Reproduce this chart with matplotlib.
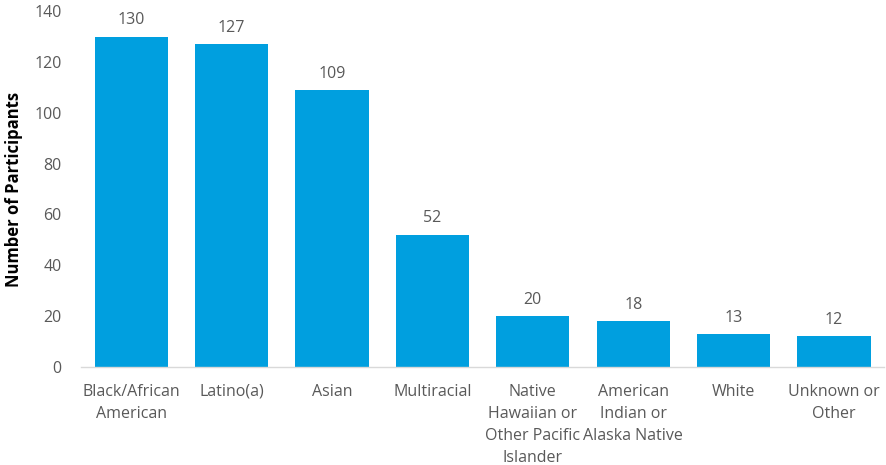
import matplotlib
matplotlib.use("Agg")
import matplotlib.pyplot as plt

categories = ["Black/African\nAmerican", "Latino(a)", "Asian", "Multiracial",
              "Native\nHawaiian or\nOther Pacific\nIslander", "American\nIndian or\nAlaska Native",
              "White", "Unknown or\nOther"]
values = [130, 127, 109, 52, 20, 18, 13, 12]
yticks = [0, 20, 40, 60, 80, 100, 120, 140]

plt.rcParams['font.family'] = ['Open Sans', 'DejaVu Sans']
gray = "#595959"

fig = plt.figure(figsize=(8.86, 4.65), dpi=100)
ax = fig.add_axes([0.0914, 0.2108, 0.9066, 0.7652])
x = list(range(len(categories)))
bars = ax.bar(x, values, width=0.73, color="#009FDF")
for xi, v in zip(x, values):
    ax.annotate(str(v), (xi, v), xytext=(0, 6), textcoords="offset points",
                ha="center", va="bottom", fontsize=11.5, color=gray)
ax.set_xlim(-0.5, len(categories) - 0.5)
ax.set_ylim(0, 140)
ax.set_yticks(yticks)
ax.set_yticklabels([str(t) for t in yticks], fontsize=11.5, color=gray)
ax.set_xticks(x)
ax.set_xticklabels(categories, fontsize=11.5, color=gray, linespacing=1.5, va="top")
ax.tick_params(axis="both", length=0)
ax.tick_params(axis="x", pad=12)
ax.tick_params(axis="y", pad=14)
for s in ["top", "right", "left"]:
    ax.spines[s].set_visible(False)
ax.spines["bottom"].set_color("#D9D9D9")
ax.spines["bottom"].set_linewidth(1)
ax.set_ylabel("Number of Participants", fontsize=12, fontweight="bold", color="black", labelpad=8)
fig.savefig("out.png", dpi=100)
